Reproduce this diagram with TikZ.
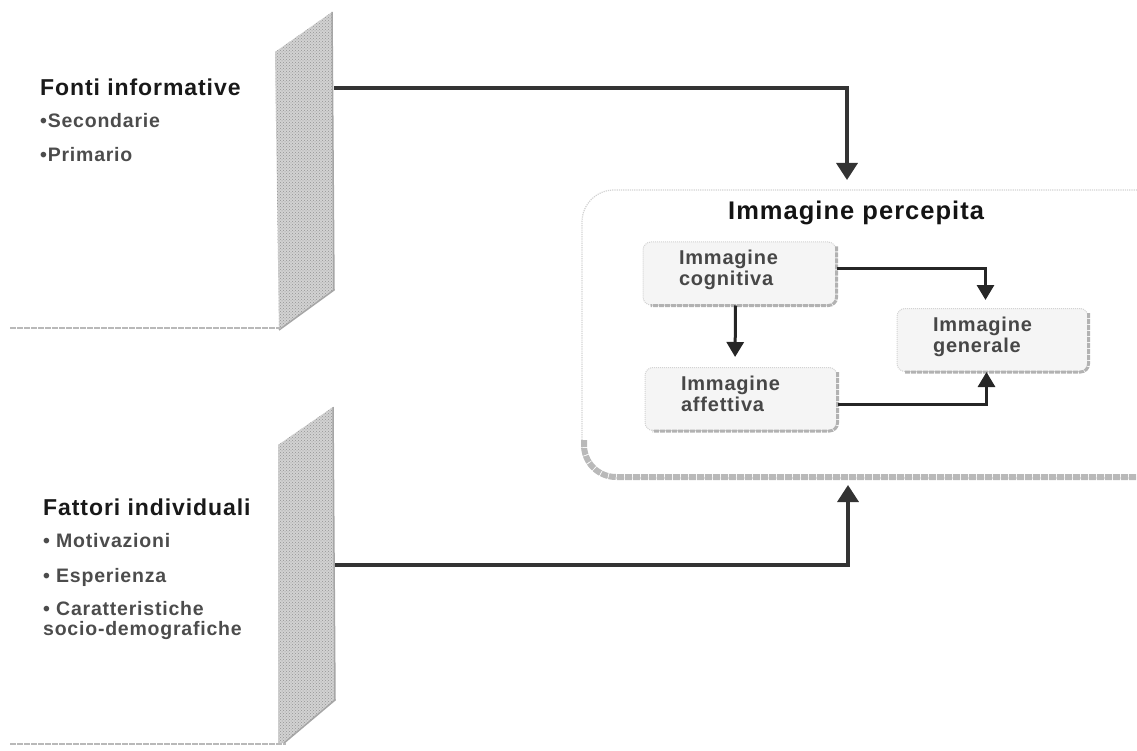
\documentclass[tikz,border=0pt]{standalone}
\usepackage{fontspec}
\setmainfont[LetterSpace=4]{Liberation Sans}
\usetikzlibrary{arrows.meta,patterns}

% extra depth under the last line lifts a two-line label inside its box
\newcommand{\liftstrut}{\rule[-11pt]{0pt}{11pt}}

\begin{document}
\begin{tikzpicture}[x=1pt,y=-1pt,
  head/.style={anchor=base west, inner sep=0pt, text=black!90,
    font=\fontsize{23}{25}\selectfont\bfseries},
  item/.style={anchor=base west, inner sep=0pt, text=black!70,
    font=\fontsize{19.5}{21}\selectfont\bfseries},
  title/.style={anchor=base west, inner sep=0pt, text=black!92,
    font=\fontsize{25.5}{27}\selectfont\bfseries},
  imgbox/.style={rounded corners=8pt, fill=gray!8, draw=gray!35, densely dotted,
    line width=1pt, align=left, inner xsep=36pt, inner ysep=0pt,
    minimum height=63pt, text=black!72,
    font=\fontsize{20}{21}\selectfont\bfseries},
  boxshadow/.style={draw=gray!60, line width=3pt, rounded corners=8pt,
    dash pattern=on 5pt off 1pt},
  sideface/.style={fill=gray!35},
  sidegrain/.style={pattern=crosshatch dots, pattern color=gray!85},
  floorline/.style={draw=gray!55, line width=2.5pt, dash pattern=on 6pt off 1pt},
  bigarrow/.style={line width=3.5pt, draw=black!80,
    -{Triangle[width=21pt,length=17pt]}},
  smallarrow/.style={line width=3pt, draw=black!85,
    -{Triangle[width=17pt,length=15pt]}}
]
\useasboundingbox (0,0) rectangle (1137,751);

% ---------- upper panel: information sources ----------
\fill[sideface] (275,52) -- (332,12) -- (334,290) -- (279,330) -- cycle;
\fill[sidegrain] (275,52) -- (332,12) -- (334,290) -- (279,330) -- cycle;
\draw[gray!70, line width=1.5pt] (332,12) -- (334,290) -- (279,330);
\draw[floorline] (10,328) -- (281,328);
\coordinate (fontiOut) at (334,88);

\node[head] (fonti) at (40,96) {Fonti informative};
\node[item] (sec) at (40,128) {•Secondarie};
\node[item] (prim) at (40,162) {•Primario};

% ---------- lower panel: individual factors ----------
\fill[sideface] (278,445) -- (333,407) -- (335,700) -- (284,743) -- (278,743) -- cycle;
\fill[sidegrain] (278,445) -- (333,407) -- (335,700) -- (284,743) -- (278,743) -- cycle;
\draw[gray!70, line width=1.5pt] (333,407) -- (335,700) -- (284,743);
\draw[floorline] (10,744) -- (286,744);
\coordinate (fattOut) at (335,565);

\node[head] (fatt) at (43,515) {Fattori individuali};
\node[item] (moti) at (43,547) {• Motivazioni};
\node[item] (espe) at (43,582) {• Esperienza};
\node[item] (cara) at (43,615) {• Caratteristiche};
\node[item] (socio) at (43,635) {socio-demografiche};

% ---------- perceived image frame ----------
\draw[gray!35, densely dotted, line width=1.2pt, rounded corners=32pt]
  (1137,190) -- (582,190) -- (582,478) -- (1137,478);
\draw[gray!55, line width=6pt, rounded corners=32pt, dash pattern=on 7pt off 1pt]
  (584,440) -- (584,477) -- (1137,477);
\coordinate (percTop) at (847,180);
\coordinate (percBottom) at (848,485);

\node[title] (perc) at (728,220) {Immagine percepita};

\node[imgbox, text width=121pt, minimum width=193pt] (cog) at (739.5,273.5)
  {Immagine\\cognitiva\liftstrut};
\node[imgbox, text width=120pt, minimum width=192pt] (aff) at (741,399)
  {Immagine\\affettiva\liftstrut};
\node[imgbox, text width=119pt, minimum width=191pt] (gen) at (992.5,340)
  {Immagine\\generale\liftstrut};

\foreach \b in {cog,aff,gen}
  \draw[boxshadow] ([yshift=-5pt]\b.north east) -- (\b.south east)
    -- ([xshift=8pt]\b.south west);

% ---------- connectors ----------
\draw[bigarrow] (fontiOut) -| (percTop);
\draw[bigarrow] (fattOut) -| (percBottom);

\draw[smallarrow, shorten >=10pt] ([xshift=-4pt]cog.south) -- ([xshift=-6pt]aff.north);
\draw[smallarrow, shorten >=8pt] ([yshift=5pt]cog.east) -| ([xshift=-7pt]gen.north);
\draw[smallarrow] ([yshift=-5pt]aff.east) -| ([xshift=-6pt]gen.south);

\end{tikzpicture}
\end{document}
